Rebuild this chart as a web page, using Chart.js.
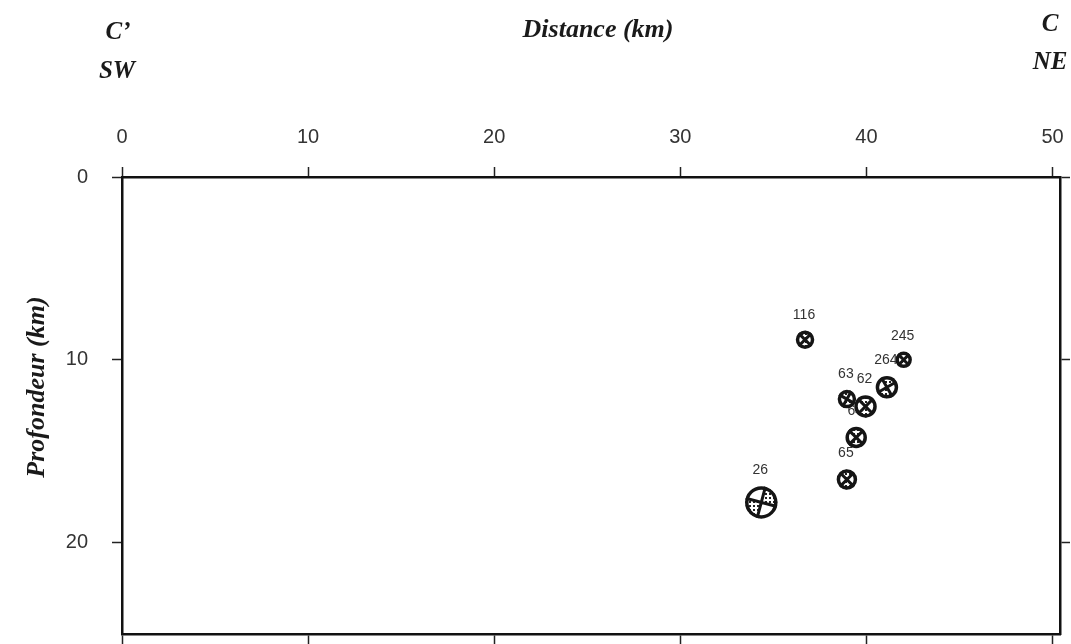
<!DOCTYPE html>
<html>
<head>
<meta charset="utf-8">
<script src="https://cdn.jsdelivr.net/npm/chart.js@4/dist/chart.umd.min.js"></script>
<style>
  html, body { margin: 0; padding: 0; background: #fff; }
</style>
</head>
<body>
<canvas id="coupeCanvas" width="1071" height="644"></canvas>
<script>
// Séismes projetés sur la coupe C'-C
const numeros = ['116', '245', '63', '64', '62', '264', '65', '26'];
const distances = [36.7, 42.0, 38.95, 39.45, 39.95, 41.1, 38.95, 34.35];   // km
const profondeurs = [8.9, 10.0, 12.15, 14.25, 12.55, 11.5, 16.55, 17.8];  // km
const magnitudes = [1.8, 1.6, 1.8, 2.1, 2.2, 2.2, 2.0, 3.2];
const azimutsPlans = [45, 45, 30, 45, 45, 60, 45, 285]; // orientation des plans nodaux (deg)

const ticksDistance = [0, 10, 20, 30, 40, 50];
const ticksProfondeur = [0, 10, 20];

// motif pointillé pour les quadrants en compression
const motifCanvas = document.createElement('canvas');
motifCanvas.width = 4; motifCanvas.height = 4;
const mctx = motifCanvas.getContext('2d');
mctx.fillStyle = '#fff'; mctx.fillRect(0, 0, 4, 4);
mctx.fillStyle = '#222'; mctx.fillRect(1, 1, 2, 2);
let motif = null;

function rayon(i) {
    return magnitudes[i] * 5;
}

function dessineMecanisme(ctx, x, y, r, angle) {
    if (!motif) motif = ctx.createPattern(motifCanvas, 'repeat');
    const a = angle * Math.PI / 180;
    ctx.save();
    ctx.beginPath();
    ctx.arc(x, y, r, 0, 2 * Math.PI);
    ctx.fillStyle = '#fff';
    ctx.fill();
    [0, Math.PI].forEach(d => {
        ctx.beginPath();
        ctx.moveTo(x, y);
        ctx.arc(x, y, r, a + d, a + d + Math.PI / 2);
        ctx.closePath();
        ctx.fillStyle = motif;
        ctx.fill();
    });
    ctx.strokeStyle = '#151515';
    ctx.lineWidth = 3;
    ctx.beginPath();
    for (let k = 0; k < 2; k++) {
        const b = a + k * Math.PI / 2;
        ctx.moveTo(x + r * Math.cos(b), y + r * Math.sin(b));
        ctx.lineTo(x - r * Math.cos(b), y - r * Math.sin(b));
    }
    ctx.stroke();
    ctx.beginPath();
    ctx.arc(x, y, r - 1.5, 0, 2 * Math.PI);
    ctx.lineWidth = 3.5;
    ctx.stroke();
    ctx.restore();
}

// étiquettes (sous les balles) + balles
const pluginSeismes = {
    id: 'seismes',
    beforeDatasetsDraw(chart) {
        const ctx = chart.ctx;
        const meta = chart.getDatasetMeta(0);
        ctx.save();
        ctx.font = '14px "Liberation Sans", Arial, sans-serif';
        ctx.fillStyle = '#333';
        ctx.textAlign = 'center';
        ctx.textBaseline = 'middle';
        meta.data.forEach((el, i) => {
            ctx.fillText(numeros[i], el.x - 1, el.y - rayon(i) - 16);
        });
        ctx.restore();
    },
    afterDatasetsDraw(chart) {
        const meta = chart.getDatasetMeta(0);
        meta.data.forEach((el, i) => {
            dessineMecanisme(chart.ctx, el.x, el.y, rayon(i), azimutsPlans[i]);
        });
    }
};

// titres en Times gras italique
const pluginTitres = {
    id: 'titres',
    afterDraw(chart) {
        const ctx = chart.ctx;
        ctx.save();
        ctx.fillStyle = '#1a1a1a';
        ctx.font = 'bold italic 26px "Liberation Serif", "Times New Roman", serif';
        ctx.textAlign = 'center';
        ctx.textBaseline = 'middle';
        ctx.fillText('Distance (km)', 598, 30);
        ctx.font = 'bold italic 25px "Liberation Serif", "Times New Roman", serif';
        ctx.fillText('C\u2019', 118, 33);
        ctx.fillText('SW', 117, 72);
        ctx.fillText('C', 1050, 25);
        ctx.fillText('NE', 1050, 63);
        ctx.font = 'bold italic 26px "Liberation Serif", "Times New Roman", serif';
        ctx.translate(37, 387);
        ctx.rotate(-Math.PI / 2);
        ctx.fillText('Profondeur (km)', 0, 0);
        ctx.restore();
    }
};

const pointsSeismes = distances.map((d, i) => ({ x: d, y: profondeurs[i] }));

const policeTicks = { family: '"Liberation Sans", Arial, sans-serif', size: 20 };
const grilleAxe = { drawOnChartArea: false, drawTicks: true, tickLength: 10, tickColor: '#222', tickWidth: 1.5 };
const bordAxe = { display: true, color: '#111', width: 2.5 };

function sansMarge(s) {
    s.paddingLeft = 0; s.paddingRight = 0; s.paddingTop = 0; s.paddingBottom = 0;
}

const ctxCoupe = document.getElementById('coupeCanvas').getContext('2d');
new Chart(ctxCoupe, {
    type: 'scatter',
    data: {
        datasets: [{
            label: 'Séismes',
            data: pointsSeismes,
            pointRadius: 0,
            pointHoverRadius: 0,
            borderWidth: 0,
            pointBorderWidth: 0
        }]
    },
    options: {
        responsive: false,
        animation: false,
        layout: { padding: 0 },
        plugins: { legend: { display: false }, tooltip: { enabled: false } },
        scales: {
            x: {
                type: 'linear', position: 'top', min: 0, max: 50.4,
                afterBuildTicks: s => { s.ticks = ticksDistance.map(v => ({ value: v })); },
                ticks: { color: '#333', font: policeTicks, padding: 18, maxRotation: 0 },
                grid: grilleAxe, border: bordAxe,
                afterFit: s => { s.height = 177; sansMarge(s); }
            },
            x2: {
                type: 'linear', position: 'bottom', min: 0, max: 50.4,
                afterBuildTicks: s => { s.ticks = ticksDistance.map(v => ({ value: v })); },
                ticks: { display: false },
                grid: grilleAxe, border: bordAxe,
                afterFit: s => { s.height = 10; sansMarge(s); }
            },
            y: {
                type: 'linear', position: 'left', reverse: true, min: 0, max: 25,
                afterBuildTicks: s => { s.ticks = ticksProfondeur.map(v => ({ value: v })); },
                ticks: { color: '#333', font: policeTicks, padding: 24 },
                grid: grilleAxe, border: bordAxe,
                afterFit: s => { s.width = 122; sansMarge(s); }
            },
            y2: {
                type: 'linear', position: 'right', reverse: true, min: 0, max: 25,
                afterBuildTicks: s => { s.ticks = ticksProfondeur.map(v => ({ value: v })); },
                ticks: { display: false },
                grid: grilleAxe, border: bordAxe,
                afterFit: s => { s.width = 11; sansMarge(s); }
            }
        }
    },
    plugins: [pluginSeismes, pluginTitres]
});
</script>
</body>
</html>
